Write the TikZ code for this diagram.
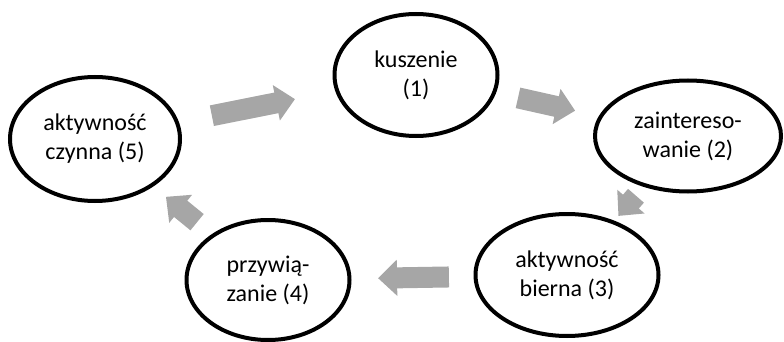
\documentclass[tikz,border=0pt]{standalone}
\usepackage{fontspec}
\setmainfont{Carlito}
\usepackage{tikz}
\usetikzlibrary{calc}
\usetikzlibrary{shapes.geometric,arrows.meta}
\usepackage{xcolor}
\definecolor{arrowgray}{HTML}{A6A6A6}

\begin{document}
\begin{tikzpicture}[x=1pt,y=-1pt]
    \tikzstyle{stage}=[draw,ellipse,line width=4pt,inner sep=0,align=center,font=\fontsize{24}{29}\selectfont]
    \tikzstyle{flow}=[draw=arrowgray,line width=21pt,-{Triangle[length=19pt,width=35pt]}]
    \useasboundingbox (0,0) rectangle (784,342);
    \node[stage,minimum width=163,minimum height=122] (n1) at (416,75) {kuszenie\\(1)};
    \node[stage,minimum width=186,minimum height=111] (n2) at (688,136) {zaintereso-\\wanie (2)};
    \node[stage,minimum width=183,minimum height=122] (n3) at (567,275) {aktywność\\bierna (3)};
    \node[stage,minimum width=163,minimum height=120] (n4) at (268,280) {przywią-\\zanie (4)};
    \node[stage,minimum width=170,minimum height=124] (n5) at (95,139) {aktywność\\czynna (5)};
    % cycle
    \draw[flow] ($(n5)!.364!(n1)$) -- ($(n5)!.623!(n1)$);
    \draw[flow] ($(n1)!.375!(n2)$) -- ($(n1)!.585!(n2)$);
    \draw[flow] ($(n2)!.43!(n3)$) -- ($(n2)!.575!(n3)$);
    \draw[flow] ($(n3)!.395!(n4)$) -- ($(n3)!.632!(n4)$);
    \draw[flow] ($(n4)!.41!(n5)$) -- ($(n4)!.59!(n5)$);
\end{tikzpicture}
\end{document}
